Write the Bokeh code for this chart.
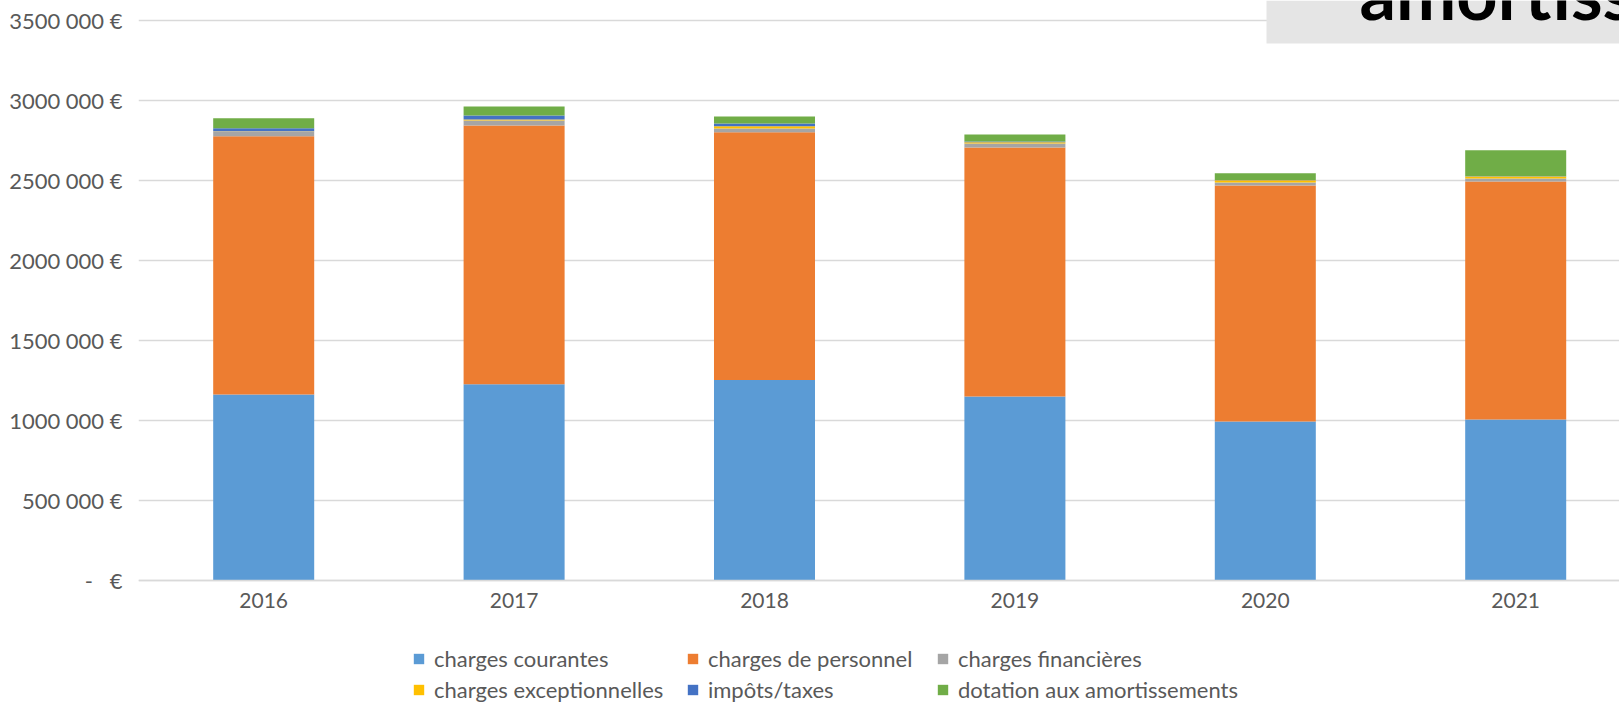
from bokeh.plotting import figure
from bokeh.models import (ColumnDataSource, FixedTicker, Legend, LegendItem,
                          BoxAnnotation, Label, Range1d)
from bokeh.embed import file_html
from bokeh.resources import INLINE

# ---- data ----
years = ["2016", "2017", "2018", "2019", "2020", "2021"]
charges_courantes = [1162500, 1227000, 1253000, 1150000, 994000, 1006000]
charges_personnel = [1614000, 1617000, 1549000, 1556000, 1475000, 1487500]
charges_financieres = [29000, 31000, 23000, 25000, 19000, 19000]
charges_exceptionnelles = [2000, 6000, 14000, 8000, 14000, 12500]
impots_taxes = [19000, 25000, 17000, 4000, 1000, 1000]
dotation_amortissements = [62500, 56000, 44000, 44000, 42000, 162500]

series_names = ["charges courantes", "charges de personnel", "charges financières",
                "charges exceptionnelles", "impôts/taxes", "dotation aux amortissements"]
series_keys = ["courantes", "personnel", "financieres", "exceptionnelles", "impots", "dotation"]
colors = ["#5B9BD5", "#ED7D31", "#A5A5A5", "#FFC000", "#4472C4", "#70AD47"]

y_ticks = [0, 500000, 1000000, 1500000, 2000000, 2500000, 3000000, 3500000]
y_labels = ["-\u00a0\u00a0\u00a0€", "500 000 €", "1000 000 €", "1500 000 €",
            "2000 000 €", "2500 000 €", "3000 000 €", "3500 000 €"]

source = ColumnDataSource(dict(
    x=list(range(len(years))),
    courantes=charges_courantes,
    personnel=charges_personnel,
    financieres=charges_financieres,
    exceptionnelles=charges_exceptionnelles,
    impots=impots_taxes,
    dotation=dotation_amortissements,
))

# ---- layout constants (pixels) ----
W, H = 1619, 704
frame_left = 138
zero_px = 580            # canvas y of value 0
ppm = 160.0              # pixels per 1 000 000
cat_w = 250.4
y_start = -(H - zero_px) / ppm * 1e6
y_end = zero_px / ppm * 1e6
x_start = -0.5
x_end = x_start + (W - frame_left) / cat_w


def xd(px):
    return x_start + (px - frame_left) / cat_w


def yd(py):
    return (zero_px - py) / ppm * 1e6


p = figure(width=W, height=H, output_backend="svg", toolbar_location=None,
           x_range=Range1d(x_start, x_end), y_range=Range1d(y_start, y_end),
           min_border_left=frame_left, min_border_right=0, min_border_top=0,
           min_border_bottom=0)
p.outline_line_color = None
p.background_fill_color = "white"
p.border_fill_color = "white"

renderers = p.vbar_stack(series_keys, x="x", width=0.4034, source=source,
                         fill_color=colors, line_color=None)

# axes
font = "Lato"
txt_col = "#595959"
p.xaxis.fixed_location = 0
p.xaxis.ticker = FixedTicker(ticks=list(range(len(years))))
p.xaxis.major_label_overrides = {i: y for i, y in enumerate(years)}
p.xaxis.axis_line_color = "#D9D9D9"
p.xaxis.axis_line_width = 1.7
p.xaxis.major_tick_line_color = None
p.xaxis.minor_tick_line_color = None
p.xaxis.major_label_text_font = font
p.xaxis.major_label_text_font_size = "21px"
p.xaxis.major_label_text_color = txt_col
p.xaxis.major_label_standoff = 6

p.yaxis.ticker = FixedTicker(ticks=y_ticks)
p.yaxis.major_label_overrides = {t: l for t, l in zip(y_ticks, y_labels)}
p.yaxis.axis_line_color = None
p.yaxis.major_tick_line_color = None
p.yaxis.minor_tick_line_color = None
p.yaxis.major_label_text_font = font
p.yaxis.major_label_text_font_size = "22px"
p.yaxis.major_label_text_color = txt_col
p.yaxis.major_label_standoff = 10

p.xgrid.grid_line_color = None
p.ygrid.grid_line_color = "#D9D9D9"
p.ygrid.grid_line_width = 1.6

# title box (cut off at top right)
p.add_layout(BoxAnnotation(left=xd(1266), bottom=yd(43),
                           fill_color="#E5E5E5", fill_alpha=1.0, line_color=None))
p.add_layout(Label(x=xd(1359), y=yd(-9),
                   text="amortissements", text_font=font, text_font_style="bold",
                   text_font_size="72px", text_color="black",
                   text_baseline="alphabetic", text_align="left"))

# legend: 2 rows x 3 columns, each item its own legend (positions relative to frame bottom-left)
item_h = 26
col_px = [412, 686, 936]
row_center_px = [659, 690]
for i, (r, name) in enumerate(zip(renderers, series_names)):
    row, col = divmod(i, 3)
    loc = (col_px[col] - frame_left, H - (row_center_px[row] + item_h / 2))
    lg = Legend(items=[LegendItem(label=name, renderers=[r])],
                location=loc, orientation="horizontal",
                padding=0, margin=0, spacing=0, glyph_width=13, glyph_height=13,
                label_standoff=9, label_height=item_h,
                label_text_font=font, label_text_font_size="22px",
                label_text_color=txt_col, border_line_color=None,
                background_fill_alpha=0.0)
    p.add_layout(lg, "center")

open("out.html", "w").write(file_html(p, INLINE))
